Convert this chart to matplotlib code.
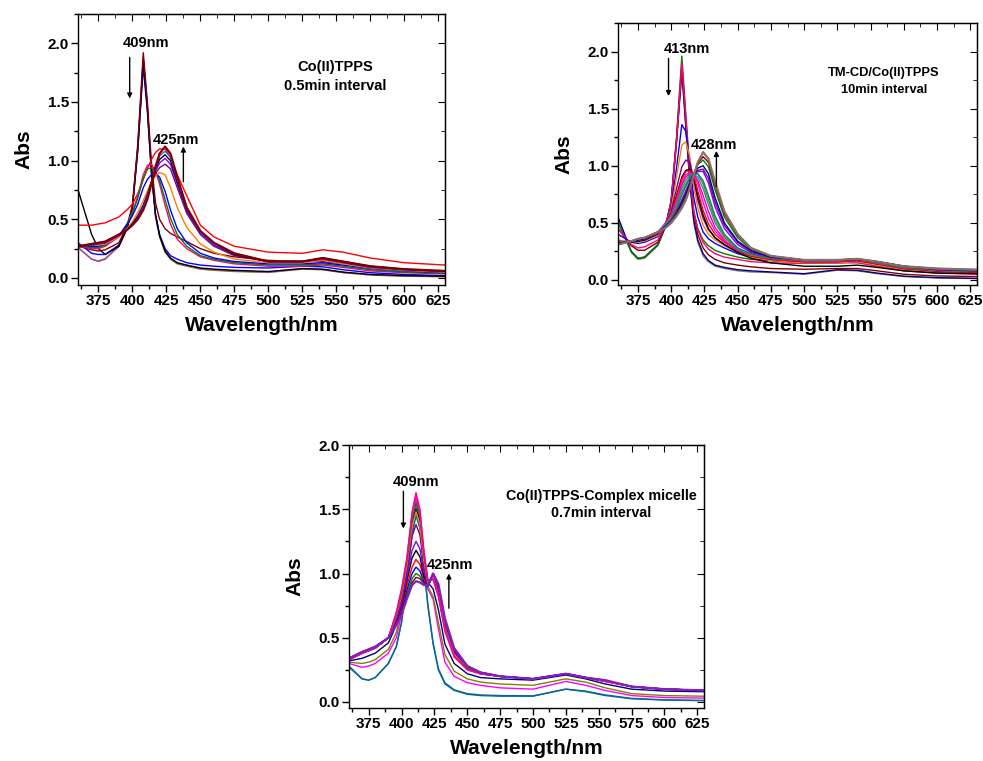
import matplotlib
matplotlib.use("Agg")
import matplotlib.pyplot as plt
from matplotlib.ticker import MultipleLocator, FormatStrFormatter

plt.rcParams["font.family"] = ["Liberation Sans", "DejaVu Sans"]
plt.rcParams["font.weight"] = "bold"

# wavelength grid (nm) shared by all spectra
WL = [360, 370, 375, 380, 390, 396, 400, 404, 408, 411, 414, 417, 420, 424,
      428, 433, 440, 450, 460, 475, 500, 525, 540, 555, 575, 600, 630]

# ---- panel 1: Co(II)TPPS, 0.5 min interval ----
a1_olive = [0.26, 0.16, 0.14, 0.16, 0.27, 0.42, 0.60, 1.10, 1.88, 1.45, 0.90, 0.52, 0.35, 0.22, 0.16, 0.12, 0.10, 0.075, 0.065, 0.055, 0.047, 0.075, 0.070, 0.045, 0.025, 0.015, 0.010]
a1_mauve = [0.26, 0.16, 0.145, 0.165, 0.27, 0.42, 0.60, 1.10, 1.86, 1.44, 0.90, 0.53, 0.36, 0.23, 0.165, 0.125, 0.105, 0.08, 0.07, 0.06, 0.05, 0.078, 0.072, 0.047, 0.027, 0.017, 0.012]
a1_blue = [0.30, 0.21, 0.20, 0.20, 0.28, 0.43, 0.60, 1.10, 1.80, 1.42, 0.90, 0.54, 0.37, 0.25, 0.19, 0.16, 0.13, 0.11, 0.10, 0.09, 0.085, 0.10, 0.095, 0.07, 0.045, 0.03, 0.02]
a1_black = [0.75, 0.37, 0.25, 0.20, 0.27, 0.42, 0.60, 1.12, 1.86, 1.46, 0.92, 0.54, 0.36, 0.23, 0.17, 0.13, 0.11, 0.085, 0.075, 0.065, 0.055, 0.08, 0.075, 0.05, 0.03, 0.02, 0.015]
a1_wine = [0.27, 0.24, 0.23, 0.24, 0.30, 0.44, 0.62, 1.15, 1.92, 1.50, 0.98, 0.64, 0.50, 0.42, 0.38, 0.35, 0.31, 0.25, 0.21, 0.18, 0.15, 0.14, 0.14, 0.12, 0.09, 0.065, 0.05]
a1_pink = [0.27, 0.25, 0.25, 0.27, 0.35, 0.46, 0.56, 0.70, 0.88, 0.96, 0.97, 0.91, 0.80, 0.62, 0.46, 0.33, 0.25, 0.18, 0.15, 0.12, 0.10, 0.10, 0.11, 0.09, 0.06, 0.045, 0.035]
a1_green = [0.27, 0.26, 0.26, 0.28, 0.36, 0.46, 0.55, 0.68, 0.85, 0.93, 0.94, 0.91, 0.83, 0.67, 0.51, 0.37, 0.27, 0.19, 0.16, 0.13, 0.11, 0.11, 0.12, 0.10, 0.07, 0.05, 0.04]
a1_blue2 = [0.27, 0.27, 0.27, 0.29, 0.36, 0.45, 0.53, 0.63, 0.77, 0.84, 0.88, 0.89, 0.86, 0.74, 0.58, 0.42, 0.30, 0.21, 0.17, 0.14, 0.12, 0.12, 0.13, 0.11, 0.08, 0.06, 0.045]
a1_orange = [0.27, 0.28, 0.28, 0.29, 0.35, 0.42, 0.48, 0.56, 0.66, 0.74, 0.82, 0.87, 0.90, 0.88, 0.77, 0.60, 0.43, 0.29, 0.22, 0.16, 0.13, 0.13, 0.15, 0.12, 0.085, 0.065, 0.05]
a1_purple = [0.27, 0.28, 0.29, 0.30, 0.36, 0.41, 0.46, 0.53, 0.62, 0.71, 0.81, 0.89, 0.94, 0.97, 0.93, 0.77, 0.55, 0.37, 0.27, 0.19, 0.14, 0.14, 0.16, 0.13, 0.09, 0.07, 0.055]
a1_violet = [0.27, 0.28, 0.29, 0.30, 0.36, 0.41, 0.46, 0.53, 0.62, 0.71, 0.82, 0.91, 0.98, 1.02, 0.97, 0.80, 0.57, 0.38, 0.28, 0.20, 0.14, 0.14, 0.165, 0.135, 0.095, 0.072, 0.057]
a1_black2 = [0.27, 0.29, 0.30, 0.31, 0.37, 0.41, 0.46, 0.52, 0.61, 0.70, 0.82, 0.93, 1.01, 1.05, 1.00, 0.82, 0.58, 0.39, 0.29, 0.20, 0.14, 0.14, 0.17, 0.14, 0.10, 0.074, 0.058]
a1_royal = [0.27, 0.29, 0.30, 0.31, 0.37, 0.41, 0.45, 0.51, 0.60, 0.69, 0.81, 0.94, 1.04, 1.08, 1.03, 0.84, 0.59, 0.39, 0.29, 0.21, 0.14, 0.14, 0.17, 0.14, 0.10, 0.075, 0.06]
a1_final = [0.27, 0.29, 0.30, 0.31, 0.37, 0.41, 0.45, 0.50, 0.58, 0.67, 0.80, 0.95, 1.06, 1.12, 1.06, 0.86, 0.60, 0.40, 0.30, 0.21, 0.14, 0.14, 0.17, 0.14, 0.10, 0.075, 0.06]
a1_red = [0.45, 0.45, 0.46, 0.47, 0.52, 0.58, 0.63, 0.72, 0.84, 0.93, 1.01, 1.07, 1.10, 1.10, 1.03, 0.88, 0.70, 0.45, 0.35, 0.27, 0.22, 0.21, 0.24, 0.22, 0.17, 0.13, 0.11]

# ---- panel 2: TM-CD/Co(II)TPPS, 10 min interval ----
b2_olive = [0.52, 0.24, 0.18, 0.19, 0.30, 0.47, 0.68, 1.20, 1.85, 1.35, 0.85, 0.50, 0.33, 0.21, 0.16, 0.12, 0.10, 0.08, 0.07, 0.065, 0.05, 0.085, 0.08, 0.055, 0.03, 0.018, 0.012]
b2_navy = [0.55, 0.25, 0.19, 0.20, 0.31, 0.48, 0.69, 1.22, 1.82, 1.34, 0.86, 0.52, 0.35, 0.23, 0.17, 0.13, 0.11, 0.09, 0.08, 0.07, 0.055, 0.09, 0.085, 0.06, 0.033, 0.02, 0.014]
b2_green = [0.50, 0.25, 0.19, 0.20, 0.31, 0.48, 0.70, 1.25, 1.96, 1.45, 0.95, 0.60, 0.45, 0.35, 0.30, 0.26, 0.23, 0.20, 0.18, 0.17, 0.16, 0.17, 0.17, 0.14, 0.10, 0.08, 0.06]
b2_wine = [0.45, 0.30, 0.26, 0.26, 0.33, 0.48, 0.68, 1.22, 1.88, 1.40, 0.92, 0.58, 0.40, 0.28, 0.22, 0.18, 0.15, 0.13, 0.115, 0.10, 0.094, 0.10, 0.10, 0.08, 0.05, 0.035, 0.03]
b2_pink = [0.45, 0.31, 0.28, 0.29, 0.35, 0.49, 0.69, 1.22, 1.90, 1.42, 0.93, 0.60, 0.44, 0.33, 0.27, 0.23, 0.20, 0.18, 0.16, 0.15, 0.145, 0.15, 0.15, 0.12, 0.08, 0.06, 0.05]
b2_blue = [0.40, 0.33, 0.32, 0.33, 0.38, 0.50, 0.64, 0.98, 1.36, 1.30, 1.02, 0.72, 0.55, 0.42, 0.36, 0.32, 0.28, 0.23, 0.20, 0.17, 0.15, 0.15, 0.16, 0.13, 0.09, 0.07, 0.06]
b2_orange = [0.35, 0.33, 0.33, 0.34, 0.39, 0.50, 0.62, 0.90, 1.18, 1.21, 1.08, 0.82, 0.63, 0.48, 0.40, 0.35, 0.30, 0.24, 0.20, 0.17, 0.15, 0.15, 0.16, 0.13, 0.09, 0.07, 0.06]
b2_purple = [0.34, 0.33, 0.34, 0.35, 0.40, 0.50, 0.60, 0.80, 0.99, 1.05, 1.03, 0.88, 0.70, 0.54, 0.44, 0.37, 0.31, 0.25, 0.21, 0.18, 0.16, 0.16, 0.17, 0.14, 0.10, 0.075, 0.065]
b2_black = [0.33, 0.33, 0.34, 0.35, 0.41, 0.50, 0.58, 0.74, 0.90, 0.96, 0.97, 0.90, 0.74, 0.57, 0.45, 0.37, 0.31, 0.24, 0.19, 0.15, 0.12, 0.12, 0.13, 0.11, 0.08, 0.06, 0.055]
b2_red = [0.33, 0.34, 0.35, 0.36, 0.41, 0.50, 0.58, 0.73, 0.88, 0.95, 0.96, 0.91, 0.78, 0.61, 0.49, 0.40, 0.33, 0.26, 0.21, 0.18, 0.16, 0.16, 0.17, 0.14, 0.10, 0.08, 0.07]
b2_magenta = [0.33, 0.34, 0.35, 0.36, 0.42, 0.50, 0.57, 0.70, 0.85, 0.92, 0.94, 0.92, 0.84, 0.68, 0.54, 0.43, 0.34, 0.26, 0.22, 0.19, 0.17, 0.17, 0.18, 0.15, 0.11, 0.085, 0.075]
b2_pink2 = [0.33, 0.34, 0.35, 0.36, 0.42, 0.49, 0.56, 0.68, 0.83, 0.90, 0.93, 0.93, 0.87, 0.74, 0.60, 0.46, 0.35, 0.26, 0.22, 0.19, 0.17, 0.17, 0.18, 0.15, 0.11, 0.085, 0.075]
b2_cyan = [0.33, 0.34, 0.35, 0.36, 0.42, 0.49, 0.55, 0.66, 0.80, 0.87, 0.92, 0.93, 0.90, 0.80, 0.66, 0.50, 0.37, 0.27, 0.22, 0.19, 0.17, 0.17, 0.18, 0.15, 0.11, 0.085, 0.075]
b2_olive2 = [0.32, 0.34, 0.35, 0.36, 0.42, 0.48, 0.54, 0.64, 0.77, 0.84, 0.90, 0.93, 0.93, 0.84, 0.70, 0.53, 0.38, 0.28, 0.22, 0.19, 0.17, 0.17, 0.18, 0.15, 0.11, 0.085, 0.075]
b2_teal = [0.32, 0.34, 0.35, 0.36, 0.42, 0.48, 0.53, 0.62, 0.74, 0.82, 0.89, 0.93, 0.93, 0.87, 0.74, 0.56, 0.40, 0.28, 0.23, 0.19, 0.17, 0.17, 0.18, 0.15, 0.11, 0.085, 0.075]
b2_violet = [0.32, 0.34, 0.35, 0.36, 0.42, 0.47, 0.52, 0.60, 0.70, 0.78, 0.86, 0.92, 0.95, 0.95, 0.85, 0.64, 0.45, 0.31, 0.24, 0.20, 0.17, 0.17, 0.18, 0.16, 0.12, 0.09, 0.08]
b2_purple2 = [0.32, 0.34, 0.35, 0.36, 0.42, 0.47, 0.52, 0.59, 0.69, 0.77, 0.85, 0.92, 0.96, 0.97, 0.89, 0.68, 0.48, 0.33, 0.25, 0.20, 0.175, 0.175, 0.18, 0.16, 0.12, 0.09, 0.08]
b2_royal = [0.32, 0.34, 0.35, 0.36, 0.42, 0.47, 0.51, 0.58, 0.67, 0.75, 0.84, 0.93, 0.98, 1.00, 0.93, 0.72, 0.50, 0.34, 0.26, 0.20, 0.175, 0.175, 0.18, 0.16, 0.12, 0.095, 0.085]
b2_green2 = [0.31, 0.34, 0.36, 0.37, 0.42, 0.46, 0.51, 0.57, 0.65, 0.72, 0.82, 0.93, 1.01, 1.05, 0.99, 0.79, 0.55, 0.37, 0.27, 0.21, 0.175, 0.175, 0.185, 0.16, 0.12, 0.095, 0.085]
b2_wine2 = [0.31, 0.34, 0.36, 0.37, 0.42, 0.46, 0.50, 0.56, 0.64, 0.71, 0.81, 0.92, 1.02, 1.08, 1.03, 0.83, 0.58, 0.39, 0.28, 0.21, 0.175, 0.175, 0.185, 0.16, 0.12, 0.10, 0.09]
b2_final = [0.31, 0.34, 0.36, 0.37, 0.42, 0.46, 0.50, 0.56, 0.63, 0.70, 0.80, 0.92, 1.03, 1.12, 1.06, 0.86, 0.60, 0.40, 0.28, 0.21, 0.175, 0.175, 0.185, 0.16, 0.12, 0.10, 0.09]

# ---- panel 3: Co(II)TPPS-Complex micelle, 0.7 min interval ----
c3_teal = [0.27, 0.18, 0.17, 0.19, 0.30, 0.43, 0.62, 0.95, 1.30, 1.45, 1.35, 1.05, 0.75, 0.45, 0.25, 0.14, 0.09, 0.06, 0.05, 0.045, 0.045, 0.10, 0.08, 0.05, 0.025, 0.015, 0.01]
c3_navy0 = [0.28, 0.18, 0.17, 0.19, 0.30, 0.43, 0.62, 0.96, 1.32, 1.47, 1.36, 1.06, 0.76, 0.46, 0.26, 0.15, 0.095, 0.065, 0.055, 0.05, 0.048, 0.10, 0.085, 0.055, 0.028, 0.017, 0.012]
c3_magenta = [0.30, 0.27, 0.28, 0.30, 0.38, 0.50, 0.68, 1.00, 1.42, 1.58, 1.45, 1.12, 0.88, 0.80, 0.57, 0.31, 0.20, 0.15, 0.13, 0.11, 0.10, 0.16, 0.13, 0.09, 0.05, 0.035, 0.03]
c3_olive = [0.31, 0.30, 0.31, 0.33, 0.41, 0.54, 0.72, 1.03, 1.40, 1.52, 1.42, 1.12, 0.90, 0.82, 0.62, 0.37, 0.24, 0.18, 0.155, 0.14, 0.13, 0.18, 0.155, 0.11, 0.065, 0.05, 0.045]
c3_navy = [0.32, 0.34, 0.36, 0.38, 0.46, 0.60, 0.76, 1.05, 1.40, 1.50, 1.42, 1.14, 0.93, 0.88, 0.72, 0.45, 0.30, 0.22, 0.19, 0.18, 0.17, 0.21, 0.18, 0.14, 0.10, 0.085, 0.08]
c3_red = [0.33, 0.38, 0.40, 0.42, 0.50, 0.70, 0.88, 1.12, 1.48, 1.63, 1.50, 1.18, 0.95, 0.95, 0.82, 0.55, 0.35, 0.25, 0.22, 0.20, 0.18, 0.22, 0.19, 0.16, 0.12, 0.10, 0.09]
c3_pink = [0.33, 0.38, 0.40, 0.42, 0.50, 0.69, 0.87, 1.11, 1.46, 1.60, 1.48, 1.17, 0.95, 0.96, 0.83, 0.56, 0.36, 0.25, 0.22, 0.20, 0.18, 0.22, 0.19, 0.16, 0.12, 0.10, 0.09]
c3_green = [0.33, 0.38, 0.40, 0.42, 0.50, 0.68, 0.85, 1.09, 1.42, 1.55, 1.44, 1.14, 0.94, 0.96, 0.83, 0.57, 0.36, 0.26, 0.22, 0.20, 0.18, 0.22, 0.19, 0.16, 0.12, 0.10, 0.09]
c3_orange = [0.33, 0.38, 0.40, 0.42, 0.50, 0.67, 0.83, 1.06, 1.37, 1.48, 1.38, 1.10, 0.93, 0.97, 0.84, 0.58, 0.37, 0.26, 0.22, 0.20, 0.18, 0.22, 0.19, 0.16, 0.12, 0.10, 0.09]
c3_purple = [0.33, 0.38, 0.40, 0.42, 0.50, 0.66, 0.80, 1.02, 1.29, 1.38, 1.30, 1.06, 0.92, 0.97, 0.85, 0.59, 0.38, 0.26, 0.22, 0.20, 0.18, 0.22, 0.19, 0.165, 0.12, 0.10, 0.09]
c3_violet = [0.33, 0.38, 0.40, 0.42, 0.50, 0.64, 0.77, 0.97, 1.18, 1.25, 1.19, 1.01, 0.91, 0.98, 0.86, 0.60, 0.39, 0.27, 0.22, 0.20, 0.18, 0.22, 0.19, 0.165, 0.12, 0.10, 0.09]
c3_black = [0.33, 0.38, 0.40, 0.42, 0.50, 0.63, 0.75, 0.94, 1.12, 1.18, 1.13, 0.98, 0.91, 0.98, 0.87, 0.61, 0.39, 0.27, 0.22, 0.20, 0.18, 0.22, 0.19, 0.165, 0.12, 0.10, 0.09]
c3_red2 = [0.34, 0.38, 0.40, 0.42, 0.50, 0.62, 0.73, 0.90, 1.05, 1.11, 1.07, 0.96, 0.90, 0.99, 0.88, 0.62, 0.40, 0.27, 0.23, 0.20, 0.18, 0.22, 0.19, 0.165, 0.12, 0.10, 0.09]
c3_blue = [0.34, 0.38, 0.41, 0.43, 0.50, 0.62, 0.71, 0.87, 1.00, 1.05, 1.02, 0.94, 0.90, 0.99, 0.89, 0.63, 0.40, 0.28, 0.23, 0.20, 0.18, 0.22, 0.19, 0.165, 0.12, 0.10, 0.09]
c3_dgreen = [0.34, 0.39, 0.41, 0.43, 0.50, 0.61, 0.70, 0.84, 0.96, 1.00, 0.98, 0.93, 0.90, 1.00, 0.90, 0.64, 0.41, 0.28, 0.23, 0.20, 0.18, 0.22, 0.19, 0.165, 0.12, 0.10, 0.09]
c3_wine = [0.34, 0.39, 0.41, 0.43, 0.50, 0.61, 0.69, 0.82, 0.93, 0.97, 0.96, 0.92, 0.90, 1.00, 0.91, 0.64, 0.41, 0.28, 0.23, 0.20, 0.18, 0.22, 0.19, 0.165, 0.12, 0.10, 0.09]
c3_final = [0.34, 0.39, 0.41, 0.43, 0.50, 0.60, 0.68, 0.80, 0.91, 0.94, 0.93, 0.91, 0.91, 1.00, 0.92, 0.65, 0.42, 0.28, 0.23, 0.20, 0.18, 0.22, 0.19, 0.17, 0.12, 0.10, 0.09]

# origin-like palette
K, R, B, M, OL, NV = "#000000", "#FF0000", "#0000FF", "#FF00FF", "#808000", "#000080"
PU, WN, DC, RY, OR, VI = "#800080", "#800000", "#008080", "#3060FF", "#FF8000", "#8000FF"
PK, GN, MV = "#FF0080", "#008000", "#B040C0"

P1 = [(a1_olive, OL), (a1_mauve, MV), (a1_blue, B), (a1_black, K), (a1_wine, WN),
      (a1_red, R), (a1_pink, PK), (a1_green, GN), (a1_blue2, B), (a1_orange, OR),
      (a1_purple, PU), (a1_violet, VI), (a1_black2, K), (a1_royal, RY), (a1_final, WN)]
P2 = [(b2_olive, "#8C7A6B"), (b2_navy, NV), (b2_green, GN), (b2_wine, WN), (b2_pink, PK),
      (b2_blue, B), (b2_orange, OR), (b2_purple, PU), (b2_black, K), (b2_red, R),
      (b2_magenta, M), (b2_pink2, PK), (b2_cyan, "#00A0C0"), (b2_olive2, OL),
      (b2_teal, DC), (b2_violet, VI), (b2_purple2, PU), (b2_royal, NV),
      (b2_green2, GN), (b2_wine2, WN), (b2_final, "#8C6B6B")]
P3 = [(c3_teal, DC), (c3_navy0, "#1060A0"), (c3_magenta, M), (c3_olive, OL), (c3_navy, NV),
      (c3_wine, WN), (c3_dgreen, GN), (c3_blue, B), (c3_red2, R), (c3_black, K),
      (c3_violet, VI), (c3_purple, PU), (c3_orange, OR), (c3_green, GN), (c3_pink, M),
      (c3_red, PK), (c3_final, "#8020C0")]


def style(ax, ylim):
    ax.set_xlim(360, 630)
    ax.set_ylim(*ylim)
    ax.xaxis.set_major_locator(MultipleLocator(25))
    ax.xaxis.set_minor_locator(MultipleLocator(12.5))
    ax.yaxis.set_major_locator(MultipleLocator(0.5))
    ax.yaxis.set_minor_locator(MultipleLocator(0.25))
    ax.yaxis.set_major_formatter(FormatStrFormatter("%.1f"))
    ax.tick_params(which="both", direction="out", labelsize=11, pad=1.5, width=1)
    ax.tick_params(which="major", length=5)
    ax.tick_params(which="minor", length=3)
    for s in ax.spines.values():
        s.set_linewidth(1)
    top = ax.secondary_xaxis("top")
    top.xaxis.set_major_locator(MultipleLocator(25))
    top.xaxis.set_minor_locator(MultipleLocator(12.5))
    top.tick_params(which="both", direction="in", labeltop=False)
    top.tick_params(which="major", length=5)
    top.tick_params(which="minor", length=3)
    right = ax.secondary_yaxis("right")
    right.yaxis.set_major_locator(MultipleLocator(0.5))
    right.yaxis.set_minor_locator(MultipleLocator(0.25))
    right.tick_params(which="both", direction="in", labelright=False)
    right.tick_params(which="major", length=5)
    right.tick_params(which="minor", length=3)
    ax.set_xlabel("Wavelength/nm", fontsize=15, fontweight="bold", labelpad=6)
    ax.set_ylabel("Abs", fontsize=15, fontweight="bold", labelpad=10)


def arrow(ax, x, y0, y1):
    ax.annotate("", xy=(x, y1), xytext=(x, y0),
                arrowprops=dict(arrowstyle="-|>", lw=1, color="black",
                                mutation_scale=7, shrinkA=0, shrinkB=0))


def draw(ax, curves):
    for i, (vals, col) in enumerate(curves):
        lw = 1.6 if i == len(curves) - 1 else 1.0
        ax.plot(WL, vals, color=col, lw=lw)


fig = plt.figure(figsize=(9.83, 7.61), dpi=100)

ax1 = fig.add_axes([0.0794, 0.6255, 0.3733, 0.3561])
draw(ax1, P1)
style(ax1, (-0.06, 2.25))
ax1.text(410, 2.0, "409nm", ha="center", va="center", fontsize=10.5)
arrow(ax1, 398, 1.88, 1.53)
ax1.text(432, 1.18, "425nm", ha="center", va="center", fontsize=10.5)
arrow(ax1, 437.5, 0.82, 1.12)
ax1.text(549, 1.8, "Co(II)TPPS", ha="center", va="center", fontsize=10.5)
ax1.text(549, 1.64, "0.5min interval", ha="center", va="center", fontsize=10.5)

ax2 = fig.add_axes([0.6287, 0.6255, 0.3652, 0.3443])
draw(ax2, P2)
style(ax2, (-0.044, 2.25))
ax2.text(411.5, 2.02, "413nm", ha="center", va="center", fontsize=10.5)
arrow(ax2, 398, 1.94, 1.61)
ax2.text(432, 1.18, "428nm", ha="center", va="center", fontsize=10.5)
arrow(ax2, 434, 0.82, 1.13)
ax2.text(560, 1.81, "TM-CD/Co(II)TPPS", ha="center", va="center", fontsize=9.3)
ax2.text(560, 1.66, "10min interval", ha="center", va="center", fontsize=9.3)

ax3 = fig.add_axes([0.355, 0.0696, 0.3611, 0.3456])
draw(ax3, P3)
style(ax3, (-0.047, 2.0))
ax3.text(411, 1.71, "409nm", ha="center", va="center", fontsize=10.5)
arrow(ax3, 401.4, 1.64, 1.35)
ax3.text(437, 1.07, "425nm", ha="center", va="center", fontsize=10.5)
arrow(ax3, 436, 0.73, 1.0)
ax3.text(552, 1.6, "Co(II)TPPS-Complex micelle", ha="center", va="center", fontsize=10.3)
ax3.text(552, 1.47, "0.7min interval", ha="center", va="center", fontsize=10.3)

fig.savefig("out.png", dpi=100)
